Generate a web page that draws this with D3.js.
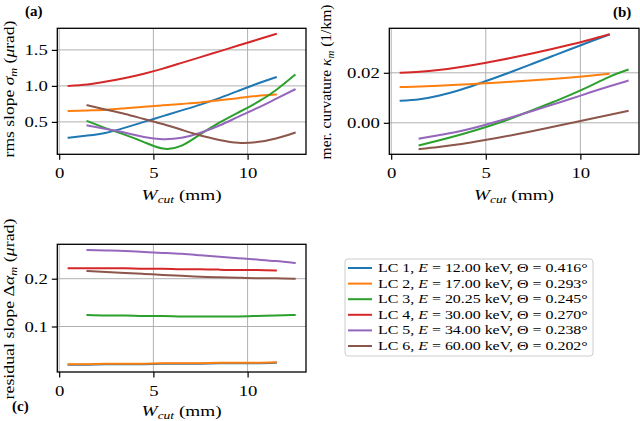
<!DOCTYPE html>
<html><head><meta charset="utf-8">
<script src="https://cdn.jsdelivr.net/npm/d3@7"></script>
<style>body{margin:0;background:#fff}svg text{font-family:"Liberation Serif",serif;fill:#000}</style>
</head><body>
<svg id="chart" width="640" height="421"></svg>
<script>
// ---------- data ----------
const wcutShort = [0.5,1.5,2.5,3.5,4.5,5.5,6.5,7.5,8.5,9.5,10.5,11.5];   // LC1, LC2, LC4
const wcutLong  = [1.5,2.5,3.5,4.5,5.5,6.5,7.5,8.5,9.5,10.5,11.5,12.5];  // LC3, LC5, LC6
const seriesNames = ["LC 1","LC 2","LC 3","LC 4","LC 5","LC 6"];
const energies = ["12.00","17.00","20.25","30.00","34.00","60.00"];
const thetas = ["0.416","0.293","0.245","0.270","0.238","0.202"];
const colors = ["#1f77b4","#ff7f0e","#2ca02c","#d62728","#9467bd","#8c564b"];

// (a) rms slope (µrad)
const rmsLC1 = [0.28,0.31,0.35,0.42,0.50,0.58,0.66,0.74,0.83,0.93,1.03,1.12];
const rmsLC2 = [0.65,0.66,0.67,0.69,0.71,0.73,0.75,0.77,0.80,0.83,0.86,0.88];
const rmsLC3 = [0.51,0.41,0.32,0.22,0.13,0.17,0.33,0.49,0.63,0.77,0.94,1.15];
const rmsLC4 = [1.00,1.02,1.06,1.11,1.17,1.24,1.32,1.40,1.48,1.56,1.64,1.72];
const rmsLC5 = [0.45,0.40,0.35,0.29,0.26,0.28,0.35,0.45,0.57,0.69,0.82,0.95];
const rmsLC6 = [0.73,0.67,0.61,0.54,0.47,0.39,0.31,0.25,0.21,0.22,0.27,0.35];

// (b) meridional curvature (1/km)
const curvLC1 = [0.0088,0.0094,0.0108,0.0128,0.0153,0.0180,0.0208,0.0237,0.0266,0.0295,0.0324,0.0352];
const curvLC2 = [0.0143,0.0145,0.0148,0.0152,0.0156,0.0160,0.0165,0.0170,0.0175,0.0181,0.0188,0.0196];
const curvLC3 = [-0.0090,-0.0071,-0.0051,-0.0029,-0.0005,0.0022,0.0051,0.0081,0.0113,0.0147,0.0183,0.0212];
const curvLC4 = [0.0200,0.0204,0.0211,0.0221,0.0233,0.0247,0.0262,0.0278,0.0295,0.0313,0.0332,0.0353];
const curvLC5 = [-0.0063,-0.0050,-0.0036,-0.0018,0.0003,0.0025,0.0048,0.0072,0.0096,0.0121,0.0145,0.0168];
const curvLC6 = [-0.0105,-0.0097,-0.0087,-0.0075,-0.0062,-0.0048,-0.0033,-0.0017,-0.0001,0.0015,0.0031,0.0047];

// (c) residual slope (µrad)
const resLC1 = [0.020,0.020,0.021,0.021,0.021,0.022,0.022,0.022,0.023,0.023,0.023,0.024];
const resLC2 = [0.021,0.021,0.022,0.022,0.022,0.023,0.023,0.023,0.024,0.024,0.024,0.025];
const resLC3 = [0.124,0.123,0.123,0.122,0.122,0.121,0.121,0.121,0.121,0.122,0.123,0.124];
const resLC4 = [0.222,0.222,0.222,0.222,0.221,0.221,0.220,0.220,0.219,0.218,0.218,0.217];
const resLC5 = [0.260,0.259,0.258,0.256,0.254,0.252,0.249,0.246,0.243,0.240,0.237,0.233];
const resLC6 = [0.216,0.214,0.212,0.210,0.208,0.206,0.204,0.203,0.202,0.201,0.201,0.200];

const xTicks = [0,5,10];
const xTickLabels = ["0","5","10"];
const aTicks = [0.5,1.0,1.5];     const aTickLabels = ["0.5","1.0","1.5"];
const bTicks = [0.00,0.02];       const bTickLabels = ["0.00","0.02"];
const cTicks = [0.1,0.2];         const cTickLabels = ["0.1","0.2"];

// ---------- drawing ----------
const svg = d3.select("#chart");
const xs = [wcutShort,wcutShort,wcutLong,wcutShort,wcutLong,wcutLong];
const TS = 1.25; // horizontal glyph stretch for tick labels

function mtext(t, parts, fs){
  let shifted = false;
  parts.forEach(([s, st]) => {
    const sp = t.append("tspan").text(s);
    if (st === "i") sp.attr("font-style","italic");
    if (st === "b") sp.attr("font-weight","bold");
    if (st === "sub") {
      sp.attr("font-style","italic").attr("font-size", (fs*0.7)+"px").attr("dy", (fs*0.22));
      shifted = true;
    } else if (shifted) {
      sp.attr("dy", -(fs*0.22)); shifted = false;
    }
  });
  return t;
}
function fitted(parts, fs, target, cx, cy, rot, anchor){
  const t = svg.append("text").attr("font-size", fs+"px").attr("text-anchor", anchor||"middle");
  mtext(t, parts, fs);
  const w = t.node().getComputedTextLength();
  const k = target ? target / w : 1;
  t.attr("transform", `translate(${cx},${cy})${rot ? " rotate(-90)" : ""} scale(${k},1)`);
  return t;
}

function panel(o){
  const x = d3.scaleLinear().domain([-0.1,13.1]).range([o.x0,o.x1]);
  const y = d3.scaleLinear().domain(o.yDomain).range([o.y1,o.y0]);
  const g = svg.append("g");
  g.append("g").selectAll("line").data(xTicks).join("line")
    .attr("x1",d=>x(d)).attr("x2",d=>x(d)).attr("y1",o.y0).attr("y2",o.y1)
    .attr("stroke","#b0b0b0").attr("stroke-width",1);
  g.append("g").selectAll("line").data(o.yTicks).join("line")
    .attr("y1",d=>y(d)).attr("y2",d=>y(d)).attr("x1",o.x0).attr("x2",o.x1)
    .attr("stroke","#b0b0b0").attr("stroke-width",1);
  const line = d3.line().x(d=>x(d[0])).y(d=>y(d[1])).curve(d3.curveNatural);
  o.series.forEach((vals,i)=>{
    g.append("path").datum(d3.zip(xs[i], vals)).attr("d", line)
      .attr("fill","none").attr("stroke",colors[i]).attr("stroke-width",2)
      .attr("stroke-linecap","square");
  });
  const xa = g.append("g").attr("transform",`translate(0,${o.y1})`)
    .call(d3.axisBottom(x).tickValues(xTicks).tickSize(5.5).tickPadding(8)
      .tickFormat((d,i)=>xTickLabels[i]));
  const ya = g.append("g").attr("transform",`translate(${o.x0},0)`)
    .call(d3.axisLeft(y).tickValues(o.yTicks).tickSize(5.5).tickPadding(4)
      .tickFormat((d,i)=>o.yTickLabels[i]));
  [xa,ya].forEach(a=>{
    a.attr("font-family",null).attr("font-size",null);
    a.select(".domain").remove();
    a.selectAll("line").attr("stroke","#000").attr("stroke-width",1.2);
    a.selectAll("text").attr("font-size","15px").attr("fill","#000");
  });
  xa.selectAll("text").attr("transform",`scale(${TS},1)`);
  ya.selectAll("text").attr("x", -9.5/TS).attr("transform",`scale(${TS},1)`);
  g.append("rect").attr("x",o.x0).attr("y",o.y0).attr("width",o.x1-o.x0).attr("height",o.y1-o.y0)
    .attr("fill","none").attr("stroke","#000").attr("stroke-width",1.3);
}

panel({x0:57.3,x1:306,y0:28.3,y1:154.3,yDomain:[0.05,1.80],yTicks:aTicks,yTickLabels:aTickLabels,
  series:[rmsLC1,rmsLC2,rmsLC3,rmsLC4,rmsLC5,rmsLC6]});
panel({x0:389.3,x1:639,y0:28.3,y1:154.3,yDomain:[-0.0126,0.0378],yTicks:bTicks,yTickLabels:bTickLabels,
  series:[curvLC1,curvLC2,curvLC3,curvLC4,curvLC5,curvLC6]});
panel({x0:57.3,x1:306,y0:244.3,y1:372,yDomain:[0.0048,0.272],yTicks:cTicks,yTickLabels:cTickLabels,
  series:[resLC1,resLC2,resLC3,resLC4,resLC5,resLC6]});

// axis labels
const wlab = [["W","i"],["cut","sub"],[" (mm)",""]];
fitted(wlab,15,80,181.6,200);
fitted(wlab,15,80,514,200);
fitted(wlab,15,80,181.6,416);
fitted([["rms slope ",""],["σ","i"],["m","sub"],[" (",""],["μ","i"],["rad)",""]],15,137,14,89,true);
fitted([["mer. curvature ",""],["κ","i"],["m","sub"],[" (1/km)",""]],15,155,331,82,true);
fitted([["residual slope Δ",""],["α","i"],["m","sub"],[" (",""],["μ","i"],["rad)",""]],15,181,14,309,true);

// panel letters
fitted([["(a)","b"]],15,null,25,16,false,"start");
fitted([["(b)","b"]],15,null,613,16.5,false,"start");
fitted([["(c)","b"]],15,null,12,411,false,"start");

// legend
svg.append("rect").attr("x",345).attr("y",259).attr("width",248).attr("height",97).attr("rx",3)
  .attr("fill","#fff").attr("stroke","#cccccc").attr("stroke-width",1);
seriesNames.forEach((n,i)=>{
  const cy = 268 + i*15.6;
  svg.append("line").attr("x1",348).attr("x2",372).attr("y1",cy).attr("y2",cy)
    .attr("stroke",colors[i]).attr("stroke-width",2);
  fitted([[n+", ",""],["E","i"],[" = "+energies[i]+" keV, Θ = "+thetas[i]+"°",""]],11.5,210,378,cy+4,false,"start");
});
</script>
</body></html>
